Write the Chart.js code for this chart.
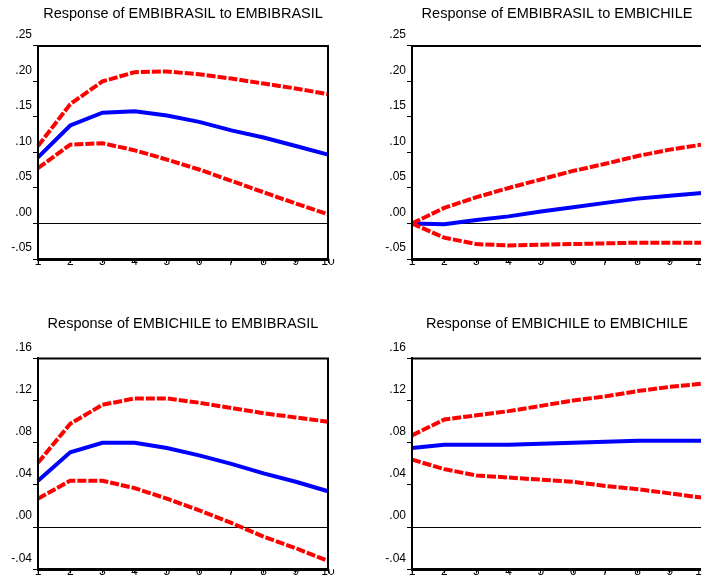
<!DOCTYPE html>
<html>
<head>
<meta charset="utf-8">
<script src="https://cdn.jsdelivr.net/npm/chart.js@4/dist/chart.umd.min.js"></script>
<style>
  html, body { margin: 0; padding: 0; background: #fff; overflow: hidden; }
  body { width: 701px; height: 581px; position: relative; }
  .panel { position: absolute; width: 350px; }
  .panel canvas { display: block; }
</style>
</head>
<body>
<div class="panel" style="left:0;top:0;height:290px;"><canvas id="c1"></canvas></div>
<div class="panel" style="left:374px;top:0;height:290px;"><canvas id="c2"></canvas></div>
<div class="panel" style="left:0;top:310px;height:271px;"><canvas id="c3"></canvas></div>
<div class="panel" style="left:374px;top:310px;height:271px;"><canvas id="c4"></canvas></div>

<script>
// impulse responses, periods 1..10
const STEPS = ['1', '2', '3', '4', '5', '6', '7', '8', '9', '10'];

// Response of EMBIBRASIL to EMBIBRASIL
const BRBR_MID = [0.093, 0.138, 0.156, 0.158, 0.152, 0.143, 0.131, 0.121, 0.109, 0.097];
const BRBR_UP  = [0.109, 0.168, 0.200, 0.213, 0.214, 0.210, 0.204, 0.197, 0.190, 0.182];
const BRBR_LO  = [0.078, 0.111, 0.113, 0.103, 0.090, 0.076, 0.060, 0.044, 0.028, 0.013];

// Response of EMBIBRASIL to EMBICHILE
const BRCL_MID = [0.000, -0.001, 0.005, 0.010, 0.017, 0.023, 0.029, 0.035, 0.039, 0.043];
const BRCL_UP  = [0.000, 0.022, 0.037, 0.050, 0.062, 0.074, 0.084, 0.095, 0.104, 0.111];
const BRCL_LO  = [0.000, -0.020, -0.029, -0.031, -0.030, -0.029, -0.028, -0.027, -0.027, -0.027];

// Response of EMBICHILE to EMBIBRASIL
const CLBR_MID = [0.044, 0.071, 0.080, 0.080, 0.075, 0.068, 0.060, 0.051, 0.043, 0.034];
const CLBR_UP  = [0.061, 0.098, 0.116, 0.122, 0.122, 0.118, 0.113, 0.108, 0.104, 0.100];
const CLBR_LO  = [0.027, 0.044, 0.044, 0.037, 0.027, 0.016, 0.004, -0.009, -0.020, -0.032];

// Response of EMBICHILE to EMBICHILE
const CLCL_MID = [0.075, 0.078, 0.078, 0.078, 0.079, 0.080, 0.081, 0.082, 0.082, 0.082];
const CLCL_UP  = [0.087, 0.102, 0.106, 0.110, 0.115, 0.120, 0.124, 0.129, 0.133, 0.136];
const CLCL_LO  = [0.064, 0.055, 0.049, 0.047, 0.045, 0.043, 0.039, 0.036, 0.032, 0.028];

// y axis ranges: [min, max, step]
const TOP_Y = [-0.05, 0.25, 0.05];
const BOT_Y = [-0.04, 0.16, 0.04];

const FONT = 'Arial, "Liberation Sans", Helvetica, sans-serif';

function fmtTick(v) {
  const s = (Math.round(v * 100) / 100).toFixed(2);
  return s.replace('0.', '.');
}

// frame around the plot area (top / right sides)
const framePlugin = {
  id: 'frame',
  afterDatasetsDraw(chart) {
    const a = chart.chartArea, c = chart.ctx;
    c.save();
    c.strokeStyle = '#000';
    c.lineWidth = 2;
    c.beginPath();
    c.moveTo(a.left, a.bottom);
    c.lineTo(a.left, a.top);
    c.lineTo(a.right, a.top);
    c.lineTo(a.right, a.bottom);
    c.stroke();
    c.restore();
  }
};

function makePanel(id, title, up, mid, lo, yr, titleGap, xHeight) {
  const band = (data, dashed) => ({
    data,
    borderColor: dashed ? '#ff0000' : '#0000ff',
    borderWidth: 4,
    borderDash: dashed ? [9, 2] : [],
    borderCapStyle: 'butt',
    pointRadius: 0,
    tension: 0,
    fill: false,
  });

  return new Chart(document.getElementById(id), {
    type: 'line',
    data: {
      labels: STEPS,
      datasets: [band(up, true), band(lo, true), band(mid, false)]
    },
    options: {
      responsive: true,
      maintainAspectRatio: false,
      animation: false,
      events: [],
      layout: { padding: { left: 0, right: 22, top: 0, bottom: 0 } },
      plugins: {
        legend: { display: false },
        tooltip: { enabled: false },
        title: {
          display: true,
          text: title,
          fullSize: false,
          color: '#000',
          font: { family: FONT, size: 14.5, weight: 'normal' },
          padding: { top: 5, bottom: titleGap }
        }
      },
      scales: {
        x: {
          type: 'category',
          offset: false,
          border: { display: true, color: '#000', width: 3 },
          grid: { drawOnChartArea: false, drawTicks: true, tickLength: 4, tickColor: '#000' },
          ticks: {
            color: '#000', padding: -9, maxRotation: 0, autoSkip: false,
            font: { family: FONT, size: 12 }
          },
          afterFit: s => { s.height = xHeight; }
        },
        y: {
          min: yr[0], max: yr[1],
          border: { display: true, color: '#000', width: 2 },
          grid: {
            color: ctx => (ctx.tick && Math.abs(ctx.tick.value) < 1e-9) ? '#000' : 'rgba(0,0,0,0)',
            lineWidth: 1,
            drawTicks: true, tickLength: 5, tickColor: '#000'
          },
          ticks: {
            stepSize: yr[2], color: '#000', padding: 1, labelOffset: -11,
            font: { family: FONT, size: 12 },
            callback: v => fmtTick(v)
          },
          afterFit: s => { s.width = 38; }
        }
      }
    },
    plugins: [framePlugin]
  });
}

makePanel('c1', 'Response of EMBIBRASIL to EMBIBRASIL', BRBR_UP, BRBR_MID, BRBR_LO, TOP_Y, 23.5, 31);
makePanel('c2', 'Response of EMBIBRASIL to EMBICHILE',  BRCL_UP, BRCL_MID, BRCL_LO, TOP_Y, 23.5, 31);
makePanel('c3', 'Response of EMBICHILE to EMBIBRASIL',  CLBR_UP, CLBR_MID, CLBR_LO, BOT_Y, 26, 11.7);
makePanel('c4', 'Response of EMBICHILE to EMBICHILE',   CLCL_UP, CLCL_MID, CLCL_LO, BOT_Y, 26, 11.7);
</script>
</body>
</html>
